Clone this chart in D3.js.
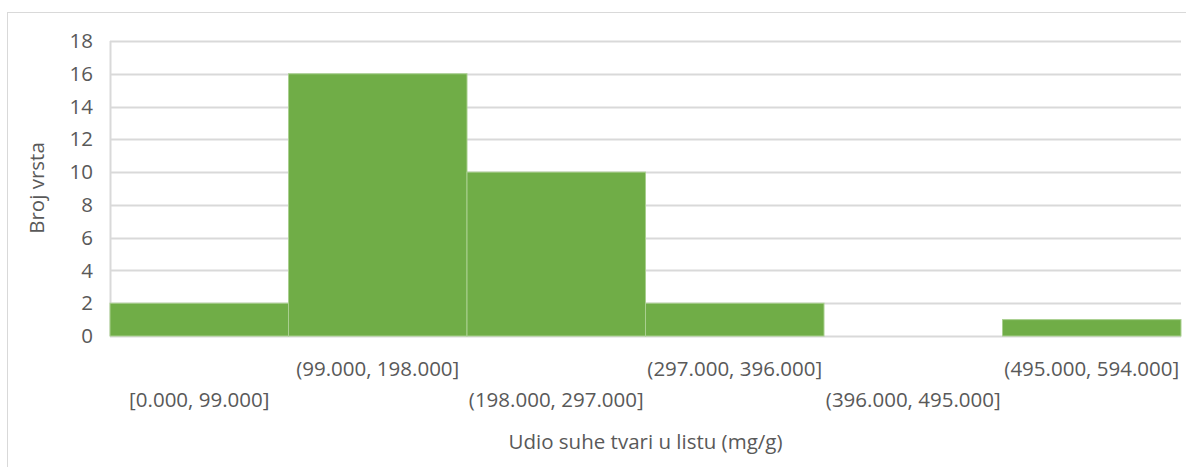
<!DOCTYPE html>
<meta charset="utf-8">
<head>
    <style>
        body { margin: 0; background: #fff; }
        text { font-family: "Open Sans", "Noto Sans", sans-serif; fill: #595959; }
    </style>
    <script src="https://d3js.org/d3.v7.min.js"></script>
</head>
<body>
    <div id="my_dataviz"></div>
    <script>
        // histogram bins and counts
        var bins = ["[0.000, 99.000]", "(99.000, 198.000]", "(198.000, 297.000]",
            "(297.000, 396.000]", "(396.000, 495.000]", "(495.000, 594.000]"];
        var counts = [2, 16, 10, 2, 0, 1];
        var yTicks = [0, 2, 4, 6, 8, 10, 12, 14, 16, 18];

        var W = 1186, H = 467;
        var margin = { top: 41, right: 5, bottom: 131, left: 110 },
            width = W - margin.left - margin.right,
            height = H - margin.top - margin.bottom;
        var fs = "20.5px";

        var svg = d3.select("#my_dataviz")
            .append("svg")
            .attr("width", W)
            .attr("height", H);

        // chart frame (runs off the right and bottom edges)
        svg.append("rect")
            .attr("x", 7.5).attr("y", 12.5)
            .attr("width", W).attr("height", H)
            .attr("fill", "none")
            .attr("stroke", "#d9d9d9");

        var g = svg.append("g")
            .attr("transform", "translate(" + margin.left + "," + margin.top + ")");

        var x = d3.scaleBand().domain(bins).range([0, width]).padding(0);
        var y = d3.scaleLinear().domain([0, 18]).range([height, 0]);

        // gridlines
        g.selectAll(".grid")
            .data(yTicks)
            .enter()
            .append("line")
            .attr("x1", 0).attr("x2", width)
            .attr("y1", d => Math.round(y(d)) + 0.5)
            .attr("y2", d => Math.round(y(d)) + 0.5)
            .attr("stroke", "#d9d9d9")
            .attr("stroke-width", 2);

        // left axis line
        g.append("line")
            .attr("x1", 0.5).attr("x2", 0.5)
            .attr("y1", 0).attr("y2", height)
            .attr("stroke", "#d9d9d9")
            .attr("stroke-width", 2);

        // bars
        g.selectAll(".bar")
            .data(counts)
            .enter()
            .append("rect")
            .attr("x", (d, i) => x(bins[i]))
            .attr("width", x.bandwidth())
            .attr("y", d => y(d))
            .attr("height", d => height - y(d))
            .attr("fill", "#70ad47")
            .attr("stroke", d => d > 0 ? "#a9cf8f" : "none")
            .attr("stroke-width", 1);

        // y axis labels
        var yAxis = g.append("g")
            .call(d3.axisLeft(y).tickValues(yTicks).tickSize(0).tickPadding(17));
        yAxis.select(".domain").remove();
        yAxis.selectAll("text")
            .style("font-size", fs)
            .attr("fill", "#595959");

        // x axis labels, alternating rows
        g.selectAll(".xlab")
            .data(bins)
            .enter()
            .append("text")
            .attr("x", d => x(d) + x.bandwidth() / 2)
            .attr("y", (d, i) => height + (i % 2 === 0 ? 71 : 40))
            .attr("text-anchor", "middle")
            .style("font-size", fs)
            .text(d => d);

        // axis titles
        svg.append("text")
            .attr("x", margin.left + width / 2)
            .attr("y", 449)
            .attr("text-anchor", "middle")
            .style("font-size", fs)
            .text("Udio suhe tvari u listu (mg/g)");

        svg.append("text")
            .attr("transform", "translate(44,188) rotate(-90)")
            .attr("text-anchor", "middle")
            .style("font-size", fs)
            .text("Broj vrsta");
    </script>
</body>
